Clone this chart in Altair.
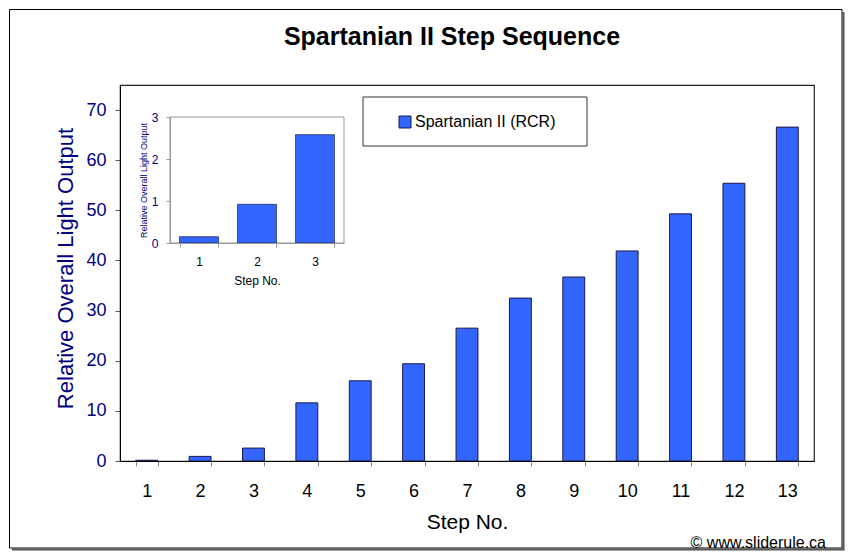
import altair as alt
import pandas as pd

# values
steps = list(range(1, 14))
light_output = [0.15, 0.92, 2.58, 11.6, 16.0, 19.4, 26.5, 32.5, 36.7, 41.9, 49.3, 55.4, 66.6]

inset_steps = [1, 2, 3]
inset_output = [0.15, 0.92, 2.58]

series_name = "Spartanian II (RCR)"
y_ticks = [0, 10, 20, 30, 40, 50, 60, 70]
inset_y_ticks = [0, 1, 2, 3]

FONT = "Liberation Sans"
BLUE = "#3366FF"
NAVY = "#000080"
W, H = 694, 376

df = pd.DataFrame({"step": steps, "output": light_output, "series": series_name})
df_inset = pd.DataFrame({"step_i": inset_steps, "output_i": inset_output})
one = pd.DataFrame({"k": [0]})

# outer chart frame, shadow on the right and bottom
frame = alt.Chart(one).mark_rect(fill=None, stroke="black", strokeWidth=1).encode(
    x=alt.value(-110.5), x2=alt.value(722), y=alt.value(-75.5), y2=alt.value(463)
)
shadow_r = alt.Chart(one).mark_rule(stroke="#555555", strokeWidth=2).encode(
    x=alt.value(723.5), y=alt.value(-73), y2=alt.value(465)
)
shadow_b = alt.Chart(one).mark_rule(stroke="#555555", strokeWidth=2).encode(
    x=alt.value(-108), x2=alt.value(724.5), y=alt.value(464.5)
)

bars = alt.Chart(df).mark_bar(stroke="#1a1a4a", strokeWidth=1).encode(
    x=alt.X("step:O", title="Step No.",
            scale=alt.Scale(paddingInner=0.59, paddingOuter=0.295),
            axis=alt.Axis(labelAngle=0, labelFontSize=18, labelColor="black",
                          titleFontSize=21, titleColor="black", titleFontWeight="normal",
                          tickBand="extent", tickSize=5, tickColor="#888888",
                          domainColor="black", labelPadding=16, zindex=1,
                          titleBaseline="alphabetic", titleY=67)),
    y=alt.Y("output:Q", title="Relative Overall Light Output",
            scale=alt.Scale(domain=[0, 75], nice=False),
            axis=alt.Axis(values=y_ticks, grid=False, labelFontSize=18, labelColor=NAVY,
                          titleFontSize=22, titleColor=NAVY, titleFontWeight="normal",
                          tickSize=5, tickColor="#555555", domainColor="black",
                          labelPadding=9, titleBaseline="alphabetic", zindex=1,
                          titleX=-48, titleY=183, titleAlign="center")),
    color=alt.Color("series:N", scale=alt.Scale(domain=[series_name], range=[BLUE]),
                    legend=alt.Legend(title=None, orient="none", legendX=277, legendY=29,
                                      symbolType="square", symbolSize=144,
                                      symbolStrokeColor="#1a1a4a", symbolStrokeWidth=1,
                                      labelFontSize=16, labelColor="black", labelFont=FONT,
                                      labelOffset=2, padding=0, zindex=2)),
)

legend_box = alt.Chart(one).mark_rect(fill="white", stroke="#333333", strokeWidth=1).encode(
    x=alt.value(243), x2=alt.value(467), y=alt.value(12), y2=alt.value(61)
)

inset_frame = alt.Chart(one).mark_rect(fill="white", stroke="#999999", strokeWidth=1).encode(
    x=alt.value(50), x2=alt.value(224), y=alt.value(32), y2=alt.value(158)
)

inset_bars = alt.Chart(df_inset).mark_bar(color=BLUE, stroke="#1a1a4a", strokeWidth=0.7).encode(
    x=alt.X("step_i:O", title="Step No.",
            scale=alt.Scale(range=[50, 224], paddingInner=0.33, paddingOuter=0.165),
            axis=alt.Axis(orient="bottom", offset=-218, labelAngle=0, labelFontSize=12,
                          labelColor="black", titleFontSize=12, titleColor="black",
                          titleFontWeight="normal", tickBand="extent", tickSize=4,
                          tickColor="#999999", domainColor="#999999", labelPadding=9,
                          titleBaseline="alphabetic", titleY=41, zindex=1)),
    y=alt.Y("output_i:Q", title="Relative Overall Light Output",
            scale=alt.Scale(domain=[0, 3], range=[158, 32], nice=False),
            axis=alt.Axis(orient="left", offset=-50, values=inset_y_ticks, grid=False,
                          labelFontSize=12, labelColor=NAVY, titleFontSize=9,
                          titleColor=NAVY, titleFontWeight="normal", tickSize=4,
                          tickColor="#999999", domainColor="#999999", labelPadding=8,
                          titleBaseline="alphabetic", titleX=-24, titleY=95,
                          titleAlign="center", zindex=1)),
)

footer = alt.Chart(pd.DataFrame({"t": ["© www.sliderule.ca"]})).mark_text(
    align="right", baseline="alphabetic", fontSize=16, font=FONT, color="black"
).encode(x=alt.value(706), y=alt.value(463), text="t:N")

chart = alt.layer(
    frame, shadow_r, shadow_b, bars, legend_box, inset_frame, inset_bars, footer
).resolve_scale(
    x="independent", y="independent", color="independent"
).resolve_axis(
    x="independent", y="independent"
).properties(
    width=W, height=H,
    autosize=alt.AutoSizeParams(type="none"),
    padding={"left": 112, "top": 77, "right": 33, "bottom": 91},
    title=alt.TitleParams("Spartanian II Step Sequence", fontSize=25, fontWeight="bold",
                          font=FONT, color="black", anchor="middle", dx=-15,
                          baseline="alphabetic", offset=0, dy=61, frame="group"),
).configure(font=FONT).configure_view(stroke="#222222", strokeWidth=1.2)

chart.save("out.html", embed_options={"renderer": "svg", "actions": False})
